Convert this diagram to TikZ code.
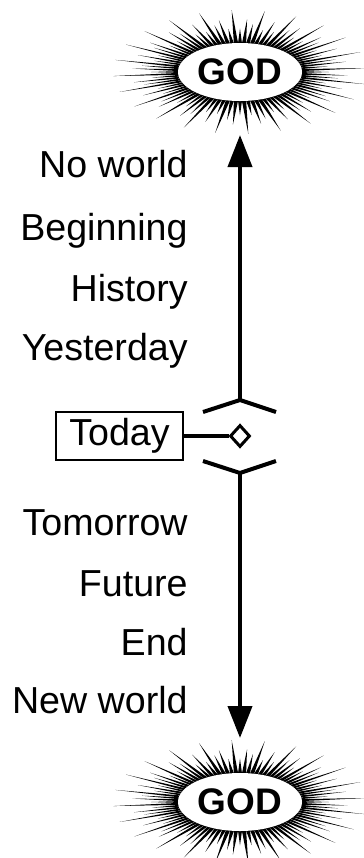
\documentclass[tikz,border=0pt]{standalone}
\usepackage{fontspec}
\setmainfont{Liberation Sans}
\usetikzlibrary{arrows.meta,shapes.geometric}

\tikzset{
  god/.style={ellipse,fill=white,inner sep=0pt,minimum width=62pt,minimum height=29pt,
              font=\fontsize{18.5}{20}\selectfont\bfseries},
  era/.style={anchor=base east,inner sep=0pt,font=\fontsize{18.8}{20}\selectfont},
  timeline/.style={line width=2pt,-{Triangle[length=16pt,width=12pt]}},
  arms/.style={line width=2pt},
}

\begin{document}
\begin{tikzpicture}[x=0.5pt,y=-0.5pt]
\useasboundingbox (0,0) rectangle (364,858);

%-------------------------------------------- God above
\begin{scope}[shift={(240,72)}]
\foreach \a [count=\k] in {0,3.75,...,356.25}{
  \pgfmathsetmacro\f{ifthenelse(mod(\k,4)==0,1,ifthenelse(mod(\k,2)==0,0.85,ifthenelse(mod(\k,3)==0,0.78,0.7)))}
  \fill ({58*cos(\a-2.2)},{27*sin(\a-2.2)}) -- ({127*\f*cos(\a)},{62*\f*sin(\a)})
        -- ({58*cos(\a+2.2)},{27*sin(\a+2.2)}) -- cycle;
}
\end{scope}
\node[god] (godtop) at (240,72) {GOD};

%-------------------------------------------- God below
\begin{scope}[shift={(240,802)}]
\foreach \a [count=\k] in {0,3.75,...,356.25}{
  \pgfmathsetmacro\f{ifthenelse(mod(\k,4)==0,1,ifthenelse(mod(\k,2)==0,0.85,ifthenelse(mod(\k,3)==0,0.78,0.7)))}
  \fill ({58*cos(\a-2.2)},{27*sin(\a-2.2)}) -- ({127*\f*cos(\a)},{62*\f*sin(\a)})
        -- ({58*cos(\a+2.2)},{27*sin(\a+2.2)}) -- cycle;
}
\end{scope}
\node[god] (godbot) at (240,802) {GOD};

%-------------------------------------------- Past
\node[era] (noworld)   at (188,177) {No world};
\node[era] (beginning) at (188,240) {Beginning};
\node[era] (history)   at (188,301) {History};
\node[era] (yesterday) at (188,360) {Yesterday};

%-------------------------------------------- Future
\node[era] (tomorrow)  at (188,535) {Tomorrow};
\node[era] (future)    at (188,596) {Future};
\node[era] (theend)    at (188,655) {End};
\node[era] (newworld)  at (188,713) {New world};

%-------------------------------------------- Today
\node[draw,line width=1pt,minimum width=63.5pt,minimum height=24pt,inner sep=0pt,
      font=\fontsize{18.8}{20}\selectfont] (today) at (119.5,436) {Today};
\node[diamond,draw,line width=1.5pt,fill=white,minimum width=10pt,minimum height=11pt,
      inner sep=0pt] (now) at (240,436) {};
\draw[arms] (today.east) -- (now.west);

%-------------------------------------------- Time line
\coordinate (pasttop) at (240,400);   % apex above today
\coordinate (pastl)   at (203,412);
\coordinate (pastr)   at (276,412);
\coordinate (futtop)  at (240,473);   % apex below today
\coordinate (futl)    at (203,461);
\coordinate (futr)    at (276,461);
\coordinate (tipup)   at (240,135);
\coordinate (tipdown) at (240,738);

\draw[arms] (pastl) -- (pasttop) -- (pastr);
\draw[arms] (futl) -- (futtop) -- (futr);
\draw[timeline] (pasttop) -- (tipup);
\draw[timeline] (futtop) -- (tipdown);

\end{tikzpicture}
\end{document}
